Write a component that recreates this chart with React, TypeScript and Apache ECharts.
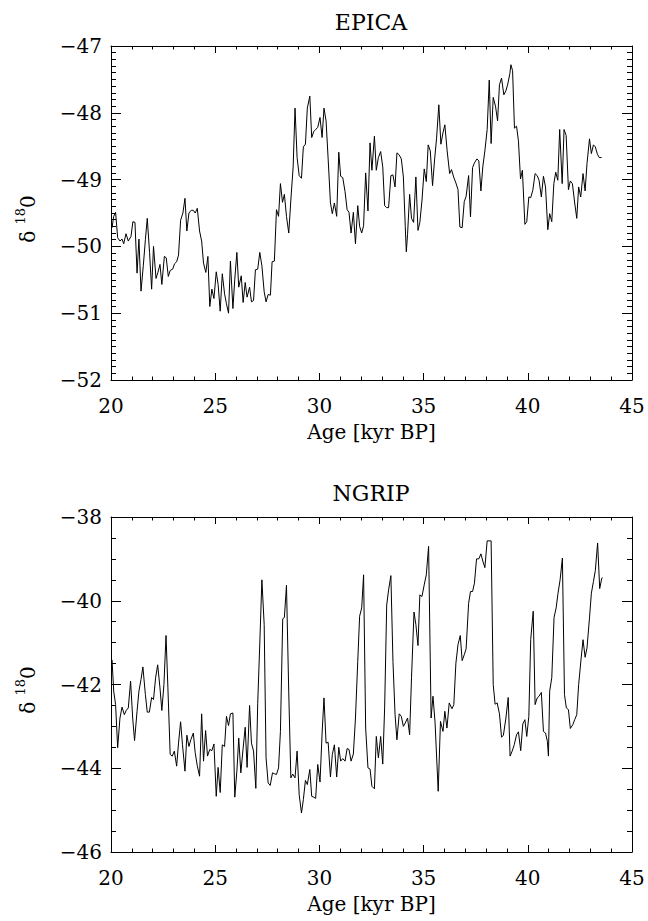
import React, { useEffect, useRef } from "react";
import * as echarts from "echarts";

const xTickValues = [20, 25, 30, 35, 40, 45];
const panelTitles = ["EPICA", "NGRIP"];
const xAxisName = "Age [kyr BP]";

const epicaAge = [
  20.05, 20.13, 20.22, 20.32, 20.43, 20.53, 20.61, 20.72, 20.83, 20.96,
  21.05, 21.15, 21.25, 21.34, 21.44, 21.55, 21.65, 21.74, 21.85, 21.95,
  22.04, 22.16, 22.25, 22.35, 22.44, 22.56, 22.65, 22.75, 22.84, 22.96,
  23.05, 23.15, 23.24, 23.34, 23.45, 23.55, 23.64, 23.74, 23.85, 23.95,
  24.04, 24.14, 24.25, 24.35, 24.44, 24.55, 24.65, 24.74, 24.84, 24.94,
  25.05, 25.14, 25.24, 25.34, 25.45, 25.54, 25.64, 25.73, 25.85, 25.94,
  26.04, 26.13, 26.25, 26.34, 26.44, 26.53, 26.65, 26.74, 26.84, 26.93,
  27.04, 27.14, 27.24, 27.35, 27.44, 27.54, 27.65, 27.73, 27.84, 27.94,
  28.04, 28.13, 28.23, 28.32, 28.42, 28.53, 28.64, 28.74, 28.83, 28.93,
  29.03, 29.14, 29.23, 29.33, 29.42, 29.54, 29.63, 29.73, 29.82, 29.92,
  30.03, 30.13, 30.22, 30.32, 30.42, 30.53, 30.62, 30.72, 30.83, 30.93,
  31.02, 31.12, 31.23, 31.33, 31.42, 31.52, 31.63, 31.73, 31.84, 31.93,
  32.03, 32.12, 32.22, 32.33, 32.43, 32.52, 32.64, 32.73, 32.83, 32.94,
  33.04, 33.13, 33.23, 33.32, 33.43, 33.53, 33.63, 33.72, 33.83, 33.93,
  34.03, 34.12, 34.17, 34.23, 34.33, 34.42, 34.52, 34.63, 34.73, 34.82,
  34.92, 35.03, 35.13, 35.22, 35.32, 35.43, 35.53, 35.62, 35.73, 35.83,
  35.93, 36.02, 36.13, 36.25, 36.34, 36.44, 36.55, 36.65, 36.74, 36.85,
  36.95, 37.04, 37.16, 37.25, 37.35, 37.44, 37.56, 37.65, 37.75, 37.84,
  37.94, 38.05, 38.15, 38.24, 38.34, 38.45, 38.55, 38.64, 38.74, 38.85,
  38.95, 39.04, 39.14, 39.19, 39.27, 39.36, 39.46, 39.55, 39.65, 39.74,
  39.86, 39.95, 40.05, 40.14, 40.24, 40.35, 40.45, 40.54, 40.65, 40.75,
  40.85, 40.96, 41.05, 41.15, 41.25, 41.34, 41.44, 41.53, 41.65, 41.74,
  41.84, 41.95, 42.04, 42.14, 42.25, 42.35, 42.44, 42.54, 42.65, 42.75,
  42.84, 42.96, 43.05, 43.15, 43.24, 43.34, 43.43, 43.54,
];

const epicaD18O = [
  -49.72, -49.55, -49.49, -49.87, -49.92, -49.89, -49.96, -49.81, -49.92, -49.85,
  -49.63, -49.64, -50.40, -49.89, -50.67, -50.29, -49.90, -49.58, -50.09, -50.64,
  -50.00, -50.48, -50.39, -50.27, -50.57, -50.15, -50.17, -50.45, -50.36, -50.34,
  -50.26, -50.23, -50.13, -49.61, -49.50, -49.28, -49.77, -49.50, -49.46, -49.46,
  -49.50, -49.43, -49.77, -49.92, -50.25, -50.39, -50.15, -50.90, -50.64, -50.78,
  -50.38, -50.57, -50.97, -50.41, -50.71, -50.86, -51.00, -50.22, -50.93, -50.49,
  -50.09, -50.61, -50.44, -50.84, -50.54, -50.76, -50.61, -50.83, -50.81, -50.35,
  -50.34, -50.09, -50.29, -50.68, -50.83, -50.72, -50.73, -50.23, -50.22, -49.45,
  -49.55, -49.06, -49.34, -49.22, -49.55, -49.80, -49.26, -48.81, -47.93, -48.67,
  -48.94, -48.98, -48.51, -48.47, -47.93, -47.75, -48.37, -48.28, -48.25, -48.22,
  -48.07, -48.37, -47.93, -48.12, -48.69, -49.35, -49.51, -49.35, -49.55, -48.59,
  -48.95, -48.97, -49.18, -49.45, -49.49, -49.80, -49.49, -49.96, -49.39, -49.70,
  -49.80, -49.69, -48.90, -49.47, -48.45, -48.86, -48.35, -48.86, -48.67, -48.58,
  -48.81, -49.39, -49.42, -49.42, -48.94, -48.93, -49.11, -48.60, -48.63, -48.69,
  -48.96, -49.70, -50.08, -49.82, -49.22, -49.58, -49.64, -48.96, -49.76, -49.64,
  -49.32, -48.84, -49.03, -48.48, -48.57, -49.09, -48.69, -48.39, -47.88, -48.47,
  -48.30, -48.18, -48.57, -48.91, -48.85, -48.96, -49.05, -49.15, -49.71, -49.72,
  -49.33, -49.25, -48.94, -49.56, -48.82, -48.75, -48.69, -48.72, -49.17, -48.81,
  -48.57, -48.25, -47.51, -48.46, -47.77, -47.90, -48.12, -47.58, -47.48, -47.73,
  -47.67, -47.57, -47.41, -47.28, -47.37, -48.23, -48.20, -48.42, -48.99, -48.86,
  -49.67, -49.63, -49.26, -49.27, -49.16, -48.91, -48.94, -49.01, -49.26, -48.95,
  -49.11, -49.75, -49.51, -49.63, -49.06, -48.89, -49.01, -48.25, -49.06, -48.25,
  -48.34, -49.15, -49.02, -49.06, -49.35, -49.58, -49.11, -49.26, -48.91, -49.17,
  -48.76, -48.39, -48.61, -48.48, -48.51, -48.62, -48.67, -48.67,
];

const ngripAge = [
  20.05, 20.13, 20.22, 20.32, 20.43, 20.53, 20.64, 20.73, 20.83, 20.94,
  21.04, 21.13, 21.25, 21.34, 21.44, 21.53, 21.65, 21.74, 21.84, 21.95,
  22.04, 22.14, 22.24, 22.35, 22.44, 22.54, 22.64, 22.73, 22.84, 22.94,
  23.04, 23.15, 23.24, 23.34, 23.43, 23.55, 23.64, 23.74, 23.83, 23.95,
  24.04, 24.14, 24.25, 24.35, 24.44, 24.54, 24.63, 24.74, 24.84, 24.94,
  25.05, 25.14, 25.24, 25.34, 25.45, 25.54, 25.64, 25.73, 25.85, 25.94,
  26.04, 26.13, 26.23, 26.34, 26.44, 26.53, 26.65, 26.74, 26.84, 26.95,
  27.04, 27.14, 27.24, 27.35, 27.44, 27.54, 27.64, 27.75, 27.84, 27.94,
  28.04, 28.13, 28.24, 28.32, 28.42, 28.53, 28.63, 28.72, 28.83, 28.93,
  29.03, 29.14, 29.23, 29.33, 29.42, 29.54, 29.63, 29.73, 29.82, 29.92,
  30.03, 30.13, 30.22, 30.32, 30.42, 30.53, 30.62, 30.72, 30.83, 30.93,
  31.02, 31.12, 31.23, 31.33, 31.42, 31.52, 31.63, 31.73, 31.84, 31.93,
  32.03, 32.12, 32.22, 32.33, 32.43, 32.52, 32.64, 32.73, 32.83, 32.94,
  33.04, 33.13, 33.23, 33.32, 33.43, 33.53, 33.63, 33.72, 33.83, 33.93,
  34.03, 34.12, 34.23, 34.33, 34.42, 34.54, 34.63, 34.73, 34.82, 34.92,
  35.03, 35.13, 35.24, 35.36, 35.45, 35.55, 35.70, 35.81, 35.93, 36.02,
  36.12, 36.23, 36.36, 36.45, 36.55, 36.65, 36.76, 36.85, 36.95, 37.04,
  37.16, 37.25, 37.35, 37.44, 37.54, 37.65, 37.75, 37.84, 37.94, 38.05,
  38.15, 38.24, 38.34, 38.43, 38.53, 38.64, 38.74, 38.83, 38.95, 39.06,
  39.15, 39.25, 39.35, 39.46, 39.55, 39.66, 39.76, 39.86, 39.95, 40.05,
  40.14, 40.26, 40.35, 40.45, 40.54, 40.65, 40.75, 40.85, 40.94, 40.99,
  41.05, 41.15, 41.26, 41.36, 41.45, 41.55, 41.66, 41.76, 41.85, 41.95,
  42.04, 42.16, 42.25, 42.35, 42.44, 42.56, 42.65, 42.75, 42.84, 42.96,
  43.05, 43.15, 43.24, 43.35, 43.45, 43.55, 43.59,
];

const ngripD18O = [
  -41.41, -42.16, -42.48, -43.51, -42.80, -42.54, -42.72, -42.62, -42.56, -41.92,
  -42.80, -43.34, -42.64, -42.16, -41.88, -41.58, -42.24, -42.66, -42.66, -42.31,
  -42.36, -41.84, -41.53, -42.08, -42.62, -42.00, -40.83, -42.08, -43.67, -43.71,
  -43.59, -43.95, -43.40, -42.89, -43.44, -44.07, -43.21, -43.48, -43.32, -43.16,
  -43.63, -43.94, -44.19, -42.70, -43.83, -43.10, -43.71, -43.55, -43.58, -43.42,
  -44.67, -43.98, -44.58, -43.44, -43.48, -42.76, -42.98, -42.70, -42.68, -44.69,
  -44.07, -43.28, -44.11, -43.52, -43.02, -43.98, -42.50, -43.40, -43.59, -44.48,
  -42.45, -41.01, -39.50, -40.57, -43.75, -44.35, -44.41, -44.11, -44.13, -44.15,
  -43.99, -43.12, -40.43, -40.40, -39.63, -42.20, -44.23, -44.14, -44.23, -43.59,
  -44.63, -45.07, -44.75, -44.29, -44.39, -44.03, -44.67, -44.69, -44.72, -43.91,
  -44.33, -43.16, -42.32, -43.40, -43.38, -44.21, -43.67, -43.44, -44.21, -43.50,
  -43.83, -43.77, -43.83, -43.53, -43.55, -43.83, -43.66, -42.80, -41.45, -40.37,
  -40.17, -39.38, -43.04, -43.99, -44.02, -44.43, -44.49, -43.24, -43.75, -43.24,
  -43.90, -42.56, -40.10, -39.74, -39.40, -41.45, -42.72, -43.32, -42.70, -42.76,
  -43.00, -42.92, -42.80, -43.20, -41.84, -40.27, -40.57, -41.07, -39.86, -39.90,
  -39.62, -39.38, -38.70, -42.80, -42.28, -42.90, -44.55, -42.88, -43.12, -42.64,
  -43.04, -42.44, -42.58, -42.48, -41.49, -41.05, -40.83, -41.43, -41.29, -41.15,
  -40.06, -39.78, -39.78, -39.58, -39.00, -39.00, -38.88, -39.05, -39.21, -38.57,
  -38.57, -38.57, -42.00, -42.47, -42.44, -42.70, -43.26, -43.21, -42.80, -42.31,
  -43.71, -43.59, -43.44, -43.20, -43.13, -43.58, -42.94, -42.84, -43.24, -42.76,
  -40.93, -40.25, -42.48, -42.32, -42.28, -42.19, -43.12, -43.16, -43.36, -43.71,
  -42.16, -41.84, -40.40, -40.17, -39.82, -39.50, -38.98, -42.24, -42.56, -42.60,
  -43.05, -42.96, -42.84, -42.72, -42.00, -41.37, -40.93, -41.35, -41.13, -40.41,
  -39.82, -39.54, -39.28, -38.62, -39.71, -39.46, -39.45,
];

const epicaY = { min: -52, max: -47, interval: 1, minorSplit: 10 };
const ngripY = { min: -46, max: -38, interval: 2, minorSplit: 4 };

export default function App() {
  const ref = useRef<HTMLDivElement>(null);

  useEffect(() => {
    const el = ref.current;
    if (!el) return;
    const chart = echarts.init(el, null, { renderer: "svg" });
    const font = "'DejaVu Serif', 'Liberation Serif', serif";
    const minus = (v: number) => String(v).replace("-", "\u2212");

    const grids = [
      { left: 111, top: 46, width: 521, height: 334 },
      { left: 111, top: 517, width: 521, height: 335 },
    ];

    const lineStyle = { color: "#000", width: 1 };

    const xAxes: any[] = [];
    const yAxes: any[] = [];
    const yCfgs = [epicaY, ngripY];

    grids.forEach((_, gi) => {
      ["bottom", "top"].forEach((pos) => {
        const main = pos === "bottom";
        xAxes.push({
          type: "value",
          gridIndex: gi,
          position: pos,
          min: xTickValues[0],
          max: xTickValues[xTickValues.length - 1],
          interval: 5,
          axisLine: { show: true, onZero: false, lineStyle },
          axisTick: { show: true, inside: true, length: 7, lineStyle },
          minorTick: { show: true, splitNumber: 5, length: 3.5, lineStyle },
          splitLine: { show: false },
          axisLabel: {
            show: main,
            margin: 16,
            color: "#000",
            fontFamily: font,
            fontSize: 20,
            formatter: minus,
          },
          name: main ? xAxisName : "",
          nameLocation: "middle",
          nameGap: 42,
          nameTextStyle: { color: "#000", fontFamily: font, fontSize: 20 },
        });
      });
      const yc = yCfgs[gi];
      ["left", "right"].forEach((pos) => {
        const main = pos === "left";
        yAxes.push({
          type: "value",
          gridIndex: gi,
          position: pos,
          min: yc.min,
          max: yc.max,
          interval: yc.interval,
          axisLine: { show: true, onZero: false, lineStyle },
          axisTick: { show: true, inside: true, length: 10, lineStyle },
          minorTick: { show: true, splitNumber: yc.minorSplit, length: 5, lineStyle },
          splitLine: { show: false },
          axisLabel: {
            show: main,
            margin: 9,
            color: "#000",
            fontFamily: font,
            fontSize: 20,
            padding: [10, 0, 0, 0],
            formatter: minus,
          },
        });
      });
    });

    const yLabel = (cx: number, cy: number) => ({
      type: "text",
      x: cx,
      y: cy,
      rotation: Math.PI / 2,
      style: {
        text: "{a|δ }{b|18}{a|0}",
        textAlign: "center",
        textVerticalAlign: "bottom",
        fill: "#000",
        fontFamily: font,
        rich: {
          a: { fontFamily: font, fontSize: 20, fill: "#000", lineHeight: 24, verticalAlign: "bottom" },
          b: { fontFamily: font, fontSize: 13, fill: "#000", lineHeight: 24, verticalAlign: "top" },
        },
      },
    });

    const title = (cx: number, cy: number, text: string) => ({
      type: "text",
      x: cx,
      y: cy,
      style: {
        text,
        textAlign: "center",
        textVerticalAlign: "middle",
        fontFamily: font,
        fontSize: 22,
        fill: "#000",
      },
    });

    const option: any = {
      animation: false,
      backgroundColor: "#fff",
      grid: grids,
      xAxis: xAxes,
      yAxis: yAxes,
      graphic: [
        title(371, 22, panelTitles[0]),
        title(371, 493, panelTitles[1]),
        yLabel(38, 219),
        yLabel(38, 690),
      ],
      series: [
        {
          name: panelTitles[0],
          type: "line",
          xAxisIndex: 0,
          yAxisIndex: 0,
          showSymbol: false,
          symbol: "none",
          lineStyle,
          data: epicaAge.map((a, i) => [a, epicaD18O[i]]),
        },
        {
          name: panelTitles[1],
          type: "line",
          xAxisIndex: 2,
          yAxisIndex: 2,
          showSymbol: false,
          symbol: "none",
          lineStyle,
          data: ngripAge.map((a, i) => [a, ngripD18O[i]]),
        },
      ],
    };

    chart.setOption(option);
    return () => chart.dispose();
  }, []);

  return (
    <div
      ref={ref}
      style={{ position: "fixed", left: 0, top: 0, width: 648, height: 921, background: "#fff" }}
    />
  );
}
